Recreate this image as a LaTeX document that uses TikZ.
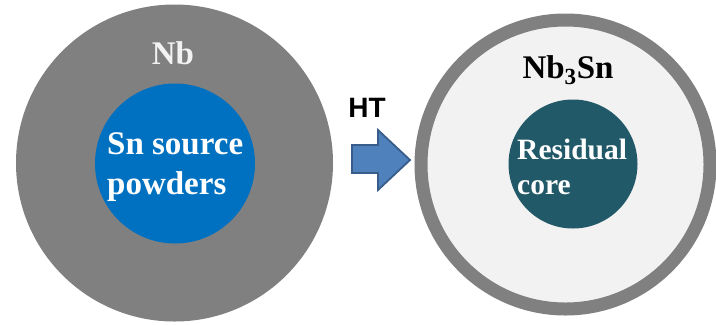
\documentclass[tikz,border=0pt]{standalone}
\usepackage{fontspec}
\setmainfont{Liberation Serif}
\newfontfamily\htfont{Liberation Sans}
\definecolor{nbgray}{HTML}{808080}
\definecolor{snblue}{HTML}{0070C0}
\definecolor{coreteal}{HTML}{215968}
\definecolor{phasefill}{HTML}{F2F2F2}
\definecolor{arrowfill}{HTML}{4F81BD}
\definecolor{arrowedge}{HTML}{385D8A}
\begin{document}
\begin{tikzpicture}[x=1bp,y=-1bp,
  disc/.style={circle,inner sep=0pt,outer sep=0pt},
  bigtext/.style={font=\fontsize{33bp}{40bp}\selectfont\bfseries},
  coretext/.style={font=\fontsize{29.5bp}{35bp}\selectfont\bfseries},
  flow/.style={fill=arrowfill,draw=arrowedge,line width=1.8bp,line join=miter}]
\useasboundingbox (0,0) rectangle (716,324);
% starting wire: Nb tube filled with Sn powder
\node[disc,fill=nbgray,minimum size=317bp] (nb) at (174.5,163) {};
\node[disc,fill=snblue,minimum size=160bp] (sn) at (175,163.5) {};
\node[bigtext,text=phasefill,anchor=base] (nblabel) at (173,64) {Nb};
\node[bigtext,text=white,align=left,anchor=north west,inner sep=0pt] (snlabel) at (107,132)
  {Sn source\\powders};
% heat treatment arrow
\coordinate (ht) at (352,159);
\draw[flow] (352,145) -- (378,145) -- (378,130) -- (410,160) -- (378,190)
  -- (378,173) -- (352,173) -- cycle;
\node[font=\htfont\fontsize{28bp}{28bp}\selectfont\bfseries,anchor=base] (htlabel) at (367,117) {HT};
% reacted wire: Nb3Sn shell with residual core
\node[disc,fill=phasefill,draw=nbgray,line width=13bp,minimum size=289bp] (nb3sn) at (565.5,164.5) {};
\node[disc,fill=coreteal,minimum size=129bp] (core) at (573,164) {};
\node[bigtext,anchor=base] (nb3snlabel) at (568,78) {Nb$_{\mathbf 3}$Sn};
\node[coretext,text=white,align=left,anchor=north west,inner sep=0pt] (corelabel) at (517,139)
  {Residual\\core};
\end{tikzpicture}
\end{document}
